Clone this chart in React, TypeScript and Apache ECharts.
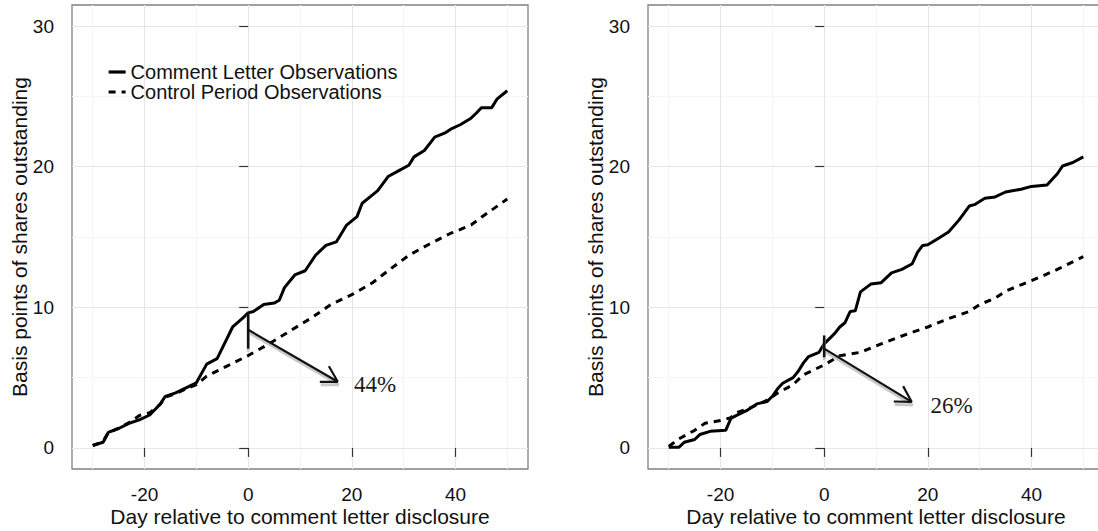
import React, { useEffect, useRef } from "react";
import * as echarts from "echarts";

// ---------- data ----------
const seriesNames = ["Comment Letter Observations", "Control Period Observations"];

const xMajorTicks = [-20, 0, 20, 40];
const xMinorTicks = [-30, -10, 10, 30, 50];
const yMajorTicks = [0, 10, 20, 30];
const yMinorTicks = [5, 15, 25];

// Left panel – comment letter observations (solid)
const leftCommentDays = [-30, -28, -27, -25, -23, -21, -19, -17, -16, -14, -12, -10, -9, -8, -6, -5, -3, -1, 0, 1, 3, 5, 6, 7, 9, 11, 13, 15, 17, 19, 21, 22, 24, 25, 27, 29, 31, 32, 34, 36, 38, 39, 41, 43, 44, 45, 47, 48, 50];
const leftCommentValues = [0.17, 0.4, 1.1, 1.38, 1.75, 2.0, 2.34, 3.1, 3.67, 3.91, 4.27, 4.63, 5.3, 5.96, 6.35, 7.1, 8.6, 9.25, 9.6, 9.7, 10.2, 10.3, 10.5, 11.4, 12.3, 12.6, 13.7, 14.4, 14.65, 15.85, 16.45, 17.4, 18.0, 18.3, 19.3, 19.7, 20.1, 20.7, 21.15, 22.1, 22.4, 22.65, 23.0, 23.45, 23.8, 24.2, 24.2, 24.8, 25.4];

// Left panel – control period observations (dashed)
const leftControlDays = [-30, -28, -27, -25, -23, -21, -19, -17, -16, -14, -12, -10, -8, -4, 0, 4, 8, 12, 16, 20, 24, 27, 31, 35, 39, 43, 45, 50];
const leftControlValues = [0.17, 0.45, 1.1, 1.4, 1.8, 2.3, 2.5, 3.1, 3.6, 3.85, 4.2, 4.5, 5.1, 5.84, 6.57, 7.4, 8.3, 9.2, 10.2, 10.9, 11.75, 12.6, 13.7, 14.5, 15.25, 15.85, 16.4, 17.7];

// Right panel – comment letter observations (solid)
const rightCommentDays = [-30, -28, -27, -25, -24, -22, -19, -18, -17, -15, -13, -11, -10, -9, -8, -6, -5, -4, -3, -1, 0, 2, 3, 4, 5, 6, 7, 9, 11, 13, 15, 17, 18, 19, 20, 22, 24, 26, 28, 29, 31, 33, 35, 38, 40, 43, 45, 46, 48, 50];
const rightCommentValues = [0.05, 0.05, 0.4, 0.6, 0.95, 1.18, 1.25, 2.1, 2.3, 2.65, 3.13, 3.3, 3.67, 4.2, 4.6, 5.0, 5.45, 6.05, 6.5, 6.8, 7.4, 8.13, 8.6, 8.9, 9.7, 9.75, 11.1, 11.65, 11.75, 12.45, 12.7, 13.1, 13.9, 14.4, 14.45, 14.9, 15.35, 16.2, 17.2, 17.3, 17.75, 17.85, 18.2, 18.4, 18.6, 18.7, 19.5, 20.05, 20.3, 20.7];

// Right panel – control period observations (dashed)
const rightControlDays = [-30, -28, -25, -23, -20, -18, -17, -15, -13, -11, -9, -6, -4, 0, 3, 7, 11, 16, 20, 24, 28, 30, 33, 35, 38, 42, 45, 50];
const rightControlValues = [0.1, 0.65, 1.25, 1.75, 1.95, 2.15, 2.5, 2.75, 3.05, 3.4, 3.9, 4.5, 5.2, 5.9, 6.55, 6.8, 7.4, 8.1, 8.6, 9.2, 9.7, 10.2, 10.65, 11.15, 11.6, 12.2, 12.7, 13.6];

// Annotations: [day of bar, bar top, bar bottom, arrow start y, arrow tip x, arrow tip y]
const annotationLabels = ["44%", "26%"];
const leftAnnotation = [0, 9.67, 7.06, 8.4, 17.3, 4.7];
const rightAnnotation = [0, 8.0, 6.45, 7.06, 16.9, 3.27];
const leftLabelPos = [20.5, 4.45];
const rightLabelPos = [20.6, 3.0];

const axisTitleX = "Day relative to comment letter disclosure";
const axisTitleY = "Basis points of shares outstanding";

// ---------- styling ----------
const SANS = '"Liberation Sans", Arial, sans-serif';
const SERIF = "'Liberation Serif', 'Times New Roman', 'DejaVu Serif', serif";
const X_RANGE = [-34, 54];
const Y_RANGE = [-1.5, 31.5];

const zip = (xs: number[], ys: number[]) => xs.map((x, i) => [x, ys[i]]);

function arrowRenderer(_params: any, api: any) {
  const vx = api.value(0);
  const top = api.coord([vx, api.value(1)]);
  const bot = api.coord([vx, api.value(2)]);
  const start = api.coord([vx, api.value(3)]);
  const tip = api.coord([api.value(4), api.value(5)]);
  const th = Math.atan2(tip[1] - start[1], tip[0] - start[0]);
  const L = 18;
  const a1 = th + Math.PI - Math.PI / 6;
  const a2 = th + Math.PI + Math.PI / 6;
  const h1 = [tip[0] + L * Math.cos(a1), tip[1] + L * Math.sin(a1)];
  const h2 = [tip[0] + L * Math.cos(a2), tip[1] + L * Math.sin(a2)];
  const shadow = { stroke: "#c8c8c8", lineWidth: 3 };
  const ink = { stroke: "#111", lineWidth: 2.2 };
  const seg = (a: number[], b: number[], style: any, dx = 0, dy = 0) => ({
    type: "line",
    shape: { x1: a[0] + dx, y1: a[1] + dy, x2: b[0] + dx, y2: b[1] + dy },
    style,
  });
  return {
    type: "group",
    children: [
      seg(top, bot, shadow, 0, 3),
      seg(start, tip, shadow, 1, 3),
      seg(tip, h1, shadow, 1, 3),
      seg(top, bot, { stroke: "#111", lineWidth: 2.5 }),
      seg(start, tip, ink),
      seg(tip, h1, ink),
      seg(tip, h2, ink),
    ],
  };
}

function makeAxes(gridIndex: number) {
  const xMain = {
    type: "value",
    gridIndex,
    min: X_RANGE[0],
    max: X_RANGE[1],
    axisLine: { show: false },
    axisTick: { show: true, customValues: xMajorTicks, length: 9, lineStyle: { color: "#333", width: 1.2 } },
    axisLabel: { customValues: xMajorTicks, margin: 16, fontSize: 19, color: "#111", fontFamily: SANS },
    splitLine: { show: true, lineStyle: { color: "#e6e6e6", width: 1.2 } },
    name: axisTitleX,
    nameLocation: "middle",
    nameGap: 37,
    nameMoveOverlap: false,
    nameTextStyle: { fontSize: 21, color: "#111", fontFamily: SANS },
    z: 1,
  };
  const xMinor = {
    type: "value",
    gridIndex,
    min: X_RANGE[0],
    max: X_RANGE[1],
    axisLine: { show: false },
    axisTick: { show: false, customValues: xMinorTicks },
    axisLabel: { show: false, customValues: xMinorTicks },
    splitLine: { show: true, lineStyle: { color: "#f5f5f5", width: 1.2 } },
    z: 0,
  };
  const yMain = {
    type: "value",
    gridIndex,
    min: Y_RANGE[0],
    max: Y_RANGE[1],
    axisLine: { show: false },
    axisTick: { show: true, customValues: yMajorTicks, length: 9, lineStyle: { color: "#333", width: 1.2 } },
    axisLabel: { customValues: yMajorTicks, margin: 18, fontSize: 19, color: "#111", fontFamily: SANS },
    splitLine: { show: true, lineStyle: { color: "#e6e6e6", width: 1.2 } },
    name: axisTitleY,
    nameLocation: "middle",
    nameGap: 42,
    nameMoveOverlap: false,
    nameTextStyle: { fontSize: 21, color: "#111", fontFamily: SANS },
    z: 1,
  };
  const yMinor = {
    type: "value",
    gridIndex,
    min: Y_RANGE[0],
    max: Y_RANGE[1],
    axisLine: { show: false },
    axisTick: { show: false, customValues: yMinorTicks },
    axisLabel: { show: false, customValues: yMinorTicks },
    splitLine: { show: true, lineStyle: { color: "#f5f5f5", width: 1.2 } },
    z: 0,
  };
  return { x: [xMain, xMinor], y: [yMain, yMinor] };
}

export default function App() {
  const ref = useRef<HTMLDivElement>(null);

  useEffect(() => {
    if (!ref.current) return;
    const chart = echarts.init(ref.current, undefined, { renderer: "svg" });
    const left = makeAxes(0);
    const right = makeAxes(1);

    const lineSeries = (name: string, data: number[][], axis: number, dashed: boolean) => ({
      type: "line",
      name,
      xAxisIndex: axis,
      yAxisIndex: axis,
      data,
      symbol: "none",
      showSymbol: false,
      z: 2,
      lineStyle: { color: "#000", width: 3, type: dashed ? [7, 6] : "solid", cap: "butt" },
      itemStyle: { color: "#000" },
    });

    const labelSeries = (text: string, pos: number[], axis: number) => ({
      type: "scatter",
      xAxisIndex: axis,
      yAxisIndex: axis,
      data: [pos],
      symbolSize: 1,
      itemStyle: { color: "rgba(0,0,0,0)", opacity: 1 },
      silent: true,
      z: 3,
      label: {
        show: true,
        formatter: text,
        position: [0, 0],
        align: "left",
        verticalAlign: "middle",
        fontSize: 23,
        fontFamily: SERIF,
        color: "#1a1a1a",
        opacity: 1,
      },
    });

    chart.setOption({
      animation: false,
      backgroundColor: "#ffffff",
      grid: [
        { left: 72, top: 5, width: 456, height: 464, show: true, borderColor: "#808080", borderWidth: 1.3, backgroundColor: "#fff", outerBoundsMode: "none", containLabel: false },
        { left: 648, top: 5, width: 456, height: 464, show: true, borderColor: "#808080", borderWidth: 1.3, backgroundColor: "#fff", outerBoundsMode: "none", containLabel: false },
      ],
      xAxis: [...left.x, ...right.x],
      yAxis: [...left.y, ...right.y],
      legend: {
        data: seriesNames,
        orient: "vertical",
        left: 102,
        top: 57,
        itemWidth: 17,
        itemHeight: 10,
        itemGap: 0,
        selectedMode: false,
        itemStyle: { opacity: 0 },
        lineStyle: { width: 3.2, color: "#000" },
        textStyle: { fontSize: 20, color: "#111", fontFamily: SANS, lineHeight: 20 },
      },
      graphic: [
        { type: "rect", left: 100, top: 61, shape: { width: 20, height: 20 }, style: { fill: "none", stroke: "#d0d0d0", lineWidth: 1 }, z: -1 },
        { type: "rect", left: 100, top: 81, shape: { width: 20, height: 20 }, style: { fill: "none", stroke: "#d0d0d0", lineWidth: 1 }, z: -1 },
      ],
      series: [
        lineSeries(seriesNames[0], zip(leftCommentDays, leftCommentValues), 0, false),
        lineSeries(seriesNames[1], zip(leftControlDays, leftControlValues), 0, true),
        lineSeries(seriesNames[0], zip(rightCommentDays, rightCommentValues), 2, false),
        lineSeries(seriesNames[1], zip(rightControlDays, rightControlValues), 2, true),
        { type: "custom", xAxisIndex: 0, yAxisIndex: 0, z: 3, clip: false, silent: true, data: [leftAnnotation], renderItem: arrowRenderer },
        { type: "custom", xAxisIndex: 2, yAxisIndex: 2, z: 3, clip: false, silent: true, data: [rightAnnotation], renderItem: arrowRenderer },
        labelSeries(annotationLabels[0], leftLabelPos, 0),
        labelSeries(annotationLabels[1], rightLabelPos, 2),
      ],
    });
    return () => chart.dispose();
  }, []);

  return (
    <div
      ref={ref}
      style={{ position: "fixed", left: 0, top: 0, width: 1098, height: 531, background: "#fff" }}
    />
  );
}
